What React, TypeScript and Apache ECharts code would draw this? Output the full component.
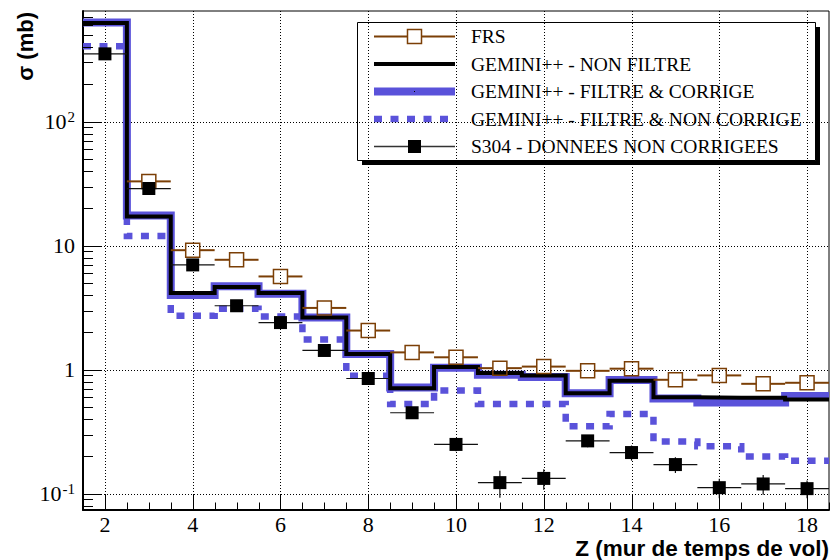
import React, { useEffect, useRef } from 'react';
import * as echarts from 'echarts';

// ---------- data ----------
const zBins = [2, 3, 4, 5, 6, 7, 8, 9, 10, 11, 12, 13, 14, 15, 16, 17, 18];
const geminiNonFiltre = [625, 17.2, 4.16, 4.65, 4.16, 2.64, 1.34, 0.71, 1.05, 0.94, 0.9, 0.645, 0.815, 0.6, 0.595, 0.595, 0.575];
const geminiFiltreCorrige = [630, 17.5, 4.0, 4.7, 4.1, 2.64, 1.34, 0.72, 1.04, 0.91, 0.875, 0.645, 0.825, 0.585, 0.545, 0.545, 0.615];
const geminiFiltreNonCorrige = [405, 12.0, 2.72, 3.1, 2.69, 1.75, 0.895, 0.53, 0.68, 0.53, 0.53, 0.35, 0.44, 0.264, 0.242, 0.2, 0.185];

const frsZ = [3, 4, 5, 6, 7, 8, 9, 10, 11, 12, 13, 14, 15, 16, 17, 18];
const frsValues = [33, 9.2, 7.7, 5.65, 3.15, 2.07, 1.38, 1.26, 1.03, 1.06, 0.98, 1.02, 0.83, 0.9, 0.77, 0.785];

const s304Values = [352, 28.9, 7.0, 3.28, 2.4, 1.43, 0.85, 0.45, 0.25, 0.123, 0.133, 0.267, 0.215, 0.172, 0.112, 0.12, 0.11];
const s304Errors = [10, 1.5, 0.4, 0.2, 0.15, 0.09, 0.06, 0.04, 0.03, 0.03, 0.025, 0.03, 0.03, 0.025, 0.02, 0.022, 0.018];

const xTickLabels = [2, 4, 6, 8, 10, 12, 14, 16, 18];
const yTickValues = [0.1, 1, 10, 100];
const yTickLabels = ['{a|10}{s|-1}', '{a|1}', '{a|10}', '{a|10}{s|2}'];

const legendLabels = [
  'FRS',
  'GEMINI++ - NON FILTRE',
  'GEMINI++ - FILTRE & CORRIGE',
  'GEMINI++ - FILTRE & NON CORRIGE',
  'S304 - DONNEES NON CORRIGEES',
];
const xTitle = 'Z (mur de temps de vol)';
const yTitle = 'σ (mb)';

// ---------- styling ----------
const X_MIN = 1.5;
const X_MAX = 18.5;
const Y_MIN = 0.074;
const Y_MAX = 780;
const BLUE = '#5a52da';
const BROWN = '#7b3f06';
const SERIF = '"Liberation Serif", "Times New Roman", serif';
const SANS = '"Liberation Sans", Arial, sans-serif';

function stepData(vals: number[]) {
  const out: number[][] = [];
  zBins.forEach((z, i) => {
    out.push([z - 0.5, vals[i]]);
    out.push([z + 0.5, vals[i]]);
  });
  return out;
}

function buildOption() {
  const gridRender = (params: any, api: any) => {
    const children: any[] = [];
    const bl = api.coord([X_MIN, Y_MIN]);
    const tr = api.coord([X_MAX, Y_MAX]);
    const dash = { stroke: '#000', lineWidth: 1, lineDash: [1, 2], fill: 'none' };
    xTickLabels.forEach((x) => {
      const p = api.coord([x, Y_MIN]);
      const px = Math.round(p[0]) + 0.5;
      children.push({ type: 'line', shape: { x1: px, y1: bl[1], x2: px, y2: tr[1] }, style: dash });
    });
    yTickValues.forEach((v) => {
      const p = api.coord([X_MIN, v]);
      const py = Math.round(p[1]) + 0.5;
      children.push({ type: 'line', shape: { x1: bl[0], y1: py, x2: tr[0], y2: py }, style: dash });
    });
    return { type: 'group', children };
  };

  const tickRender = (params: any, api: any) => {
    const children: any[] = [];
    const bl = api.coord([X_MIN, Y_MIN]);
    const st = { stroke: '#000', lineWidth: 1, fill: 'none' };
    for (let k = 0; k <= Math.round((X_MAX - X_MIN) / 0.5); k++) {
      const x = X_MIN + k * 0.5;
      const major = Math.abs(x - Math.round(x)) < 1e-6 && Math.round(x) % 2 === 0;
      const p = api.coord([x, Y_MIN]);
      const px = Math.round(p[0]) + 0.5;
      children.push({ type: 'line', shape: { x1: px, y1: bl[1], x2: px, y2: bl[1] - (major ? 15 : 7.5) }, style: st });
    }
    for (let e = -2; e <= 3; e++) {
      for (let m = 1; m <= 9; m++) {
        const v = m * Math.pow(10, e);
        if (v < Y_MIN || v > Y_MAX) continue;
        const p = api.coord([X_MIN, v]);
        const py = Math.round(p[1]) + 0.5;
        children.push({ type: 'line', shape: { x1: bl[0], y1: py, x2: bl[0] + (m === 1 ? 18 : 10), y2: py }, style: st });
      }
    }
    return { type: 'group', children };
  };

  const frsRender = (params: any, api: any) => {
    const z = api.value(0);
    const v = api.value(1);
    const c = api.coord([z, v]);
    const l = api.coord([z - 0.5, v]);
    const r = api.coord([z + 0.5, v]);
    const h = 7;
    return {
      type: 'group',
      children: [
        { type: 'line', shape: { x1: l[0], y1: c[1], x2: c[0] - h, y2: c[1] }, style: { stroke: BROWN, lineWidth: 2 } },
        { type: 'line', shape: { x1: c[0] + h, y1: c[1], x2: r[0], y2: c[1] }, style: { stroke: BROWN, lineWidth: 2 } },
        { type: 'rect', shape: { x: c[0] - h, y: c[1] - h, width: 2 * h, height: 2 * h }, style: { stroke: BROWN, lineWidth: 1.5, fill: 'none' } },
      ],
    };
  };

  const s304Render = (params: any, api: any) => {
    const z = api.value(0);
    const v = api.value(1);
    const err = api.value(2);
    const c = api.coord([z, v]);
    const l = api.coord([z - 0.5, v]);
    const r = api.coord([z + 0.5, v]);
    const lo = api.coord([z, Math.max(v - err, Y_MIN)]);
    const hi = api.coord([z, v + err]);
    const h = 6.5;
    return {
      type: 'group',
      children: [
        { type: 'line', shape: { x1: l[0], y1: c[1], x2: r[0], y2: c[1] }, style: { stroke: '#111', lineWidth: 1.2 } },
        { type: 'line', shape: { x1: c[0], y1: lo[1], x2: c[0], y2: hi[1] }, style: { stroke: '#111', lineWidth: 1.2 } },
        { type: 'rect', shape: { x: c[0] - h, y: c[1] - h, width: 2 * h, height: 2 * h }, style: { fill: '#000', stroke: 'none' } },
      ],
    };
  };

  // legend (graphic)
  const LX = 357, LY = 22, LW = 458, LH = 138;
  const rowY = [36.5, 64, 91.5, 119, 146.5];
  const s1 = 374, s2 = 455, sc = 414.5, tx = 471;
  const legendChildren: any[] = [
    { type: 'rect', shape: { x: LX + 5, y: LY + 5, width: LW, height: LH }, style: { fill: '#000' } },
    { type: 'rect', shape: { x: LX + 0.5, y: LY + 0.5, width: LW, height: LH }, style: { fill: '#fff', stroke: '#000', lineWidth: 1 } },
    // FRS
    { type: 'line', shape: { x1: s1, y1: rowY[0], x2: sc - 7, y2: rowY[0] }, style: { stroke: BROWN, lineWidth: 2 } },
    { type: 'line', shape: { x1: sc + 7, y1: rowY[0], x2: s2, y2: rowY[0] }, style: { stroke: BROWN, lineWidth: 2 } },
    { type: 'rect', shape: { x: sc - 7, y: rowY[0] - 7, width: 14, height: 14 }, style: { stroke: BROWN, lineWidth: 1.5, fill: 'none' } },
    // non filtre
    { type: 'line', shape: { x1: s1, y1: rowY[1], x2: s2, y2: rowY[1] }, style: { stroke: '#000', lineWidth: 4 } },
    // filtre & corrige
    { type: 'line', shape: { x1: s1, y1: rowY[2], x2: s2, y2: rowY[2] }, style: { stroke: BLUE, lineWidth: 8 } },
    { type: 'rect', shape: { x: sc - 0.5, y: rowY[2] - 0.5, width: 1, height: 1 }, style: { fill: '#000' } },
    // filtre & non corrige
    { type: 'line', shape: { x1: s1, y1: rowY[3], x2: s2, y2: rowY[3] }, style: { stroke: BLUE, lineWidth: 6.5, lineDash: [8, 8.5] } },
    // S304
    { type: 'line', shape: { x1: s1, y1: rowY[4], x2: s2, y2: rowY[4] }, style: { stroke: '#333', lineWidth: 1.3 } },
    { type: 'rect', shape: { x: sc - 6.5, y: rowY[4] - 6.5, width: 13, height: 13 }, style: { fill: '#000' } },
  ];
  legendLabels.forEach((t, i) => {
    legendChildren.push({
      type: 'text',
      x: tx,
      y: rowY[i],
      style: { text: t, font: `19.5px ${SERIF}`, fill: '#000', textAlign: 'left', textVerticalAlign: 'middle' },
    });
  });

  return {
    animation: false,
    backgroundColor: '#fff',
    grid: { left: 83, top: 11, right: 1, bottom: 50, show: true, borderColor: '#000', borderWidth: 1, backgroundColor: 'transparent' },
    xAxis: {
      type: 'value',
      min: X_MIN,
      max: X_MAX,
      interval: 0.5,
      axisLine: { show: true, lineStyle: { color: '#000', width: 2 } },
      axisTick: { show: false },
      splitLine: { show: false },
      axisLabel: {
        margin: 5,
        color: '#000',
        fontFamily: SERIF,
        fontSize: 22,
        lineHeight: 18,
        formatter: (v: number) => {
          const r = Math.round(v);
          return Math.abs(v - r) < 1e-6 && xTickLabels.indexOf(r) >= 0 ? String(r) : '';
        },
      },
    },
    yAxis: {
      type: 'log',
      logBase: 10,
      min: Y_MIN,
      max: Y_MAX,
      axisLine: { show: true, lineStyle: { color: '#000', width: 2 } },
      axisTick: { show: false },
      splitLine: { show: false },
      axisLabel: {
        margin: 8,
        color: '#000',
        formatter: (v: number) => {
          for (let i = 0; i < yTickValues.length; i++) {
            if (Math.abs(Math.log10(v) - Math.log10(yTickValues[i])) < 1e-6) return yTickLabels[i];
          }
          return '';
        },
        rich: {
          a: { fontFamily: SERIF, fontSize: 22, color: '#000', lineHeight: 24 },
          s: { fontFamily: SERIF, fontSize: 15, color: '#000', lineHeight: 24, verticalAlign: 'top', padding: [0, 0, 0, 1] },
        },
      },
    },
    graphic: [
      {
        type: 'text',
        x: 25,
        y: 12,
        rotation: Math.PI / 2,
        style: { text: yTitle, font: `bold 22px ${SANS}`, fill: '#000', textAlign: 'right', textVerticalAlign: 'middle' },
        z: 100,
      },
      {
        type: 'text',
        x: 829,
        y: 548,
        style: { text: xTitle, font: `bold 22.5px ${SANS}`, fill: '#000', textAlign: 'right', textVerticalAlign: 'middle' },
        z: 100,
      },
      { type: 'group', children: legendChildren, z: 100 },
    ],
    series: [
      {
        type: 'custom',
        renderItem: gridRender,
        data: [[2, 1]],
        z: 1,
        silent: true,
      },
      {
        name: legendLabels[3],
        type: 'line',
        data: stepData(geminiFiltreNonCorrige),
        symbol: 'none',
        lineStyle: { color: BLUE, width: 6.5, type: [8, 8.5], cap: 'butt', join: 'miter' },
        z: 3,
      },
      {
        name: legendLabels[2],
        type: 'line',
        data: stepData(geminiFiltreCorrige),
        symbol: 'none',
        lineStyle: { color: BLUE, width: 8, cap: 'butt', join: 'miter' },
        z: 4,
      },
      {
        name: legendLabels[1],
        type: 'line',
        data: stepData(geminiNonFiltre),
        symbol: 'none',
        lineStyle: { color: '#000', width: 4, cap: 'butt', join: 'miter' },
        z: 5,
      },
      {
        name: legendLabels[0],
        type: 'custom',
        renderItem: frsRender,
        data: frsZ.map((z, i) => [z, frsValues[i]]),
        encode: { x: 0, y: 1 },
        z: 6,
      },
      {
        name: legendLabels[4],
        type: 'custom',
        renderItem: s304Render,
        data: zBins.map((z, i) => [z, s304Values[i], s304Errors[i]]),
        encode: { x: 0, y: 1 },
        z: 7,
      },
      {
        type: 'custom',
        renderItem: tickRender,
        data: [[2, 1]],
        z: 8,
        silent: true,
      },
    ],
  };
}

export default function App() {
  const ref = useRef<HTMLDivElement>(null);
  useEffect(() => {
    if (!ref.current) return;
    const chart = echarts.init(ref.current, undefined, { renderer: 'svg' });
    chart.setOption(buildOption() as any);
    return () => chart.dispose();
  }, []);
  return (
    <div
      ref={ref}
      style={{ position: 'absolute', left: 0, top: 0, width: 832, height: 560, background: '#fff' }}
    />
  );
}
